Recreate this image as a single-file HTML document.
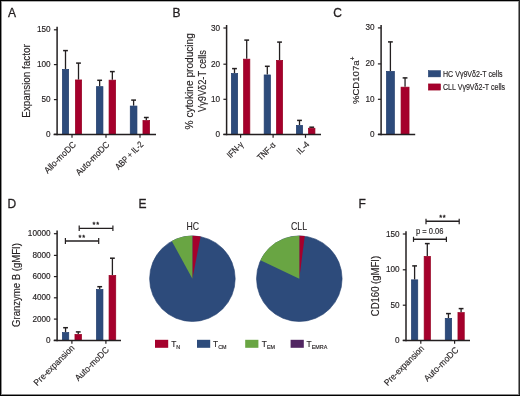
<!DOCTYPE html>
<html><head><meta charset="utf-8"><style>
html,body{margin:0;padding:0;background:#fff;}
body{width:520px;height:396px;overflow:hidden;position:relative;}
svg{position:absolute;left:0;top:0;will-change:transform;}
text{font-family:"Liberation Sans", sans-serif;fill:#231f20;stroke:#231f20;stroke-width:0.15px;}
.big{stroke-width:0.3px;}
.ast{stroke-width:0.35px;}
.fr{position:absolute;background:#000;}
.thin{stroke-width:0.08px;}
</style></head><body>
<svg width="520" height="396" viewBox="0 0 520 396">
<text x="7.9" y="16.7" font-size="12" text-anchor="start" class="big">A</text>
<text x="172.4" y="17.3" font-size="12" text-anchor="start" class="big">B</text>
<text x="333.3" y="17.4" font-size="12" text-anchor="start" class="big">C</text>
<text x="7.6" y="207.8" font-size="12" text-anchor="start" class="big">D</text>
<text x="138.4" y="208" font-size="12" text-anchor="start" class="big">E</text>
<text x="358.4" y="207.7" font-size="12" text-anchor="start" class="big">F</text>
<line x1="65.5" y1="69.0" x2="65.5" y2="50.5" stroke="#231f20" stroke-width="1.3"/>
<line x1="63.1" y1="50.6" x2="67.9" y2="50.6" stroke="#231f20" stroke-width="1.5"/>
<rect x="62.35" y="69.35" width="6.30" height="65.15" fill="#2d4b7b" stroke="#223d6c" stroke-width="0.7"/>
<line x1="78.5" y1="79.6" x2="78.5" y2="63.0" stroke="#231f20" stroke-width="1.3"/>
<line x1="76.1" y1="63.1" x2="80.9" y2="63.1" stroke="#231f20" stroke-width="1.5"/>
<rect x="75.35" y="79.95" width="6.30" height="54.55" fill="#a5002c" stroke="#960022" stroke-width="0.7"/>
<line x1="99.65" y1="86.3" x2="99.65" y2="80.2" stroke="#231f20" stroke-width="1.3"/>
<line x1="97.25" y1="80.3" x2="102.05000000000001" y2="80.3" stroke="#231f20" stroke-width="1.5"/>
<rect x="96.35" y="86.65" width="6.60" height="47.85" fill="#2d4b7b" stroke="#223d6c" stroke-width="0.7"/>
<line x1="112.35" y1="79.8" x2="112.35" y2="71.5" stroke="#231f20" stroke-width="1.3"/>
<line x1="109.94999999999999" y1="71.6" x2="114.75" y2="71.6" stroke="#231f20" stroke-width="1.5"/>
<rect x="109.05" y="80.15" width="6.60" height="54.35" fill="#a5002c" stroke="#960022" stroke-width="0.7"/>
<line x1="133.60000000000002" y1="105.7" x2="133.60000000000002" y2="100" stroke="#231f20" stroke-width="1.3"/>
<line x1="131.20000000000002" y1="100.1" x2="136.00000000000003" y2="100.1" stroke="#231f20" stroke-width="1.5"/>
<rect x="130.25" y="106.05" width="6.70" height="28.45" fill="#2d4b7b" stroke="#223d6c" stroke-width="0.7"/>
<line x1="146.3" y1="120.2" x2="146.3" y2="117.4" stroke="#231f20" stroke-width="1.3"/>
<line x1="143.9" y1="117.5" x2="148.70000000000002" y2="117.5" stroke="#231f20" stroke-width="1.5"/>
<rect x="142.95" y="120.55" width="6.70" height="13.95" fill="#a5002c" stroke="#960022" stroke-width="0.7"/>
<line x1="57.1" y1="26.8" x2="57.1" y2="135.25" stroke="#231f20" stroke-width="1.5"/>
<line x1="53.9" y1="134.3" x2="57.1" y2="134.3" stroke="#231f20" stroke-width="1.2"/>
<text x="50.65" y="136.8" font-size="8.2" text-anchor="end">0</text>
<line x1="53.9" y1="99.6" x2="57.1" y2="99.6" stroke="#231f20" stroke-width="1.2"/>
<text x="50.65" y="102.1" font-size="8.2" text-anchor="end">50</text>
<line x1="53.9" y1="64.6" x2="57.1" y2="64.6" stroke="#231f20" stroke-width="1.2"/>
<text x="50.65" y="67.1" font-size="8.2" text-anchor="end">100</text>
<line x1="53.9" y1="29.8" x2="57.1" y2="29.8" stroke="#231f20" stroke-width="1.2"/>
<text x="50.65" y="32.3" font-size="8.2" text-anchor="end">150</text>
<line x1="53.6" y1="134.5" x2="156" y2="134.5" stroke="#231f20" stroke-width="1.5"/>
<line x1="72" y1="134.5" x2="72" y2="137.8" stroke="#231f20" stroke-width="1.2"/>
<line x1="106" y1="134.5" x2="106" y2="137.8" stroke="#231f20" stroke-width="1.2"/>
<line x1="140" y1="134.5" x2="140" y2="137.8" stroke="#231f20" stroke-width="1.2"/>
<text x="29.7" y="81.0" font-size="10" text-anchor="middle" transform="rotate(-90 29.7 81.0)" textLength="73.7" lengthAdjust="spacingAndGlyphs">Expansion factor</text>
<line x1="234.5" y1="73.1" x2="234.5" y2="68.5" stroke="#231f20" stroke-width="1.3"/>
<line x1="232.1" y1="68.6" x2="236.9" y2="68.6" stroke="#231f20" stroke-width="1.5"/>
<rect x="231.35" y="73.45" width="6.30" height="61.05" fill="#2d4b7b" stroke="#223d6c" stroke-width="0.7"/>
<line x1="246.7" y1="58.8" x2="246.7" y2="40" stroke="#231f20" stroke-width="1.3"/>
<line x1="244.29999999999998" y1="40.1" x2="249.1" y2="40.1" stroke="#231f20" stroke-width="1.5"/>
<rect x="243.55" y="59.15" width="6.30" height="75.35" fill="#a5002c" stroke="#960022" stroke-width="0.7"/>
<line x1="267.3" y1="74.6" x2="267.3" y2="66.2" stroke="#231f20" stroke-width="1.3"/>
<line x1="264.90000000000003" y1="66.3" x2="269.7" y2="66.3" stroke="#231f20" stroke-width="1.5"/>
<rect x="264.15" y="74.95" width="6.30" height="59.55" fill="#2d4b7b" stroke="#223d6c" stroke-width="0.7"/>
<line x1="279.55" y1="60" x2="279.55" y2="42" stroke="#231f20" stroke-width="1.3"/>
<line x1="277.15000000000003" y1="42.1" x2="281.95" y2="42.1" stroke="#231f20" stroke-width="1.5"/>
<rect x="276.45" y="60.35" width="6.20" height="74.15" fill="#a5002c" stroke="#960022" stroke-width="0.7"/>
<line x1="299.5" y1="125" x2="299.5" y2="120.3" stroke="#231f20" stroke-width="1.3"/>
<line x1="297.1" y1="120.39999999999999" x2="301.9" y2="120.39999999999999" stroke="#231f20" stroke-width="1.5"/>
<rect x="296.35" y="125.35" width="6.30" height="9.15" fill="#2d4b7b" stroke="#223d6c" stroke-width="0.7"/>
<line x1="311.70000000000005" y1="127.9" x2="311.70000000000005" y2="127.1" stroke="#231f20" stroke-width="1.3"/>
<line x1="309.30000000000007" y1="127.19999999999999" x2="314.1" y2="127.19999999999999" stroke="#231f20" stroke-width="1.5"/>
<rect x="308.45" y="128.25" width="6.50" height="6.25" fill="#a5002c" stroke="#960022" stroke-width="0.7"/>
<line x1="226.6" y1="25" x2="226.6" y2="135.25" stroke="#231f20" stroke-width="1.5"/>
<line x1="223.4" y1="134.4" x2="226.6" y2="134.4" stroke="#231f20" stroke-width="1.2"/>
<text x="220.15" y="136.9" font-size="8.2" text-anchor="end">0</text>
<line x1="223.4" y1="99.3" x2="226.6" y2="99.3" stroke="#231f20" stroke-width="1.2"/>
<text x="220.15" y="101.8" font-size="8.2" text-anchor="end">10</text>
<line x1="223.4" y1="64.2" x2="226.6" y2="64.2" stroke="#231f20" stroke-width="1.2"/>
<text x="220.15" y="66.7" font-size="8.2" text-anchor="end">20</text>
<line x1="223.4" y1="28.0" x2="226.6" y2="28.0" stroke="#231f20" stroke-width="1.2"/>
<text x="220.15" y="30.5" font-size="8.2" text-anchor="end">30</text>
<line x1="223.4" y1="134.5" x2="321" y2="134.5" stroke="#231f20" stroke-width="1.5"/>
<line x1="240.6" y1="134.5" x2="240.6" y2="137.8" stroke="#231f20" stroke-width="1.2"/>
<line x1="273.1" y1="134.5" x2="273.1" y2="137.8" stroke="#231f20" stroke-width="1.2"/>
<line x1="305.5" y1="134.5" x2="305.5" y2="137.8" stroke="#231f20" stroke-width="1.2"/>
<text x="193.2" y="81.25" font-size="10" text-anchor="middle" transform="rotate(-90 193.2 81.25)" textLength="96.26" lengthAdjust="spacingAndGlyphs">% cytokine producing</text>
<text x="205.8" y="81.0" font-size="10" text-anchor="middle" transform="rotate(-90 205.8 81.0)" textLength="61.88" lengthAdjust="spacingAndGlyphs">V&#947;9V&#948;2-T cells</text>
<line x1="390.4" y1="71" x2="390.4" y2="41.8" stroke="#231f20" stroke-width="1.3"/>
<line x1="388.0" y1="41.9" x2="392.79999999999995" y2="41.9" stroke="#231f20" stroke-width="1.5"/>
<rect x="386.45" y="71.35" width="7.90" height="63.05" fill="#2d4b7b" stroke="#223d6c" stroke-width="0.7"/>
<line x1="405.04999999999995" y1="86.8" x2="405.04999999999995" y2="77.8" stroke="#231f20" stroke-width="1.3"/>
<line x1="402.65" y1="77.89999999999999" x2="407.44999999999993" y2="77.89999999999999" stroke="#231f20" stroke-width="1.5"/>
<rect x="401.05" y="87.15" width="8.00" height="47.25" fill="#a5002c" stroke="#960022" stroke-width="0.7"/>
<line x1="381.1" y1="25" x2="381.1" y2="135.15" stroke="#231f20" stroke-width="1.5"/>
<line x1="377.90000000000003" y1="134.3" x2="381.1" y2="134.3" stroke="#231f20" stroke-width="1.2"/>
<text x="374.65" y="136.8" font-size="8.2" text-anchor="end">0</text>
<line x1="377.90000000000003" y1="99.3" x2="381.1" y2="99.3" stroke="#231f20" stroke-width="1.2"/>
<text x="374.65" y="101.8" font-size="8.2" text-anchor="end">10</text>
<line x1="377.90000000000003" y1="63.9" x2="381.1" y2="63.9" stroke="#231f20" stroke-width="1.2"/>
<text x="374.65" y="66.4" font-size="8.2" text-anchor="end">20</text>
<line x1="377.90000000000003" y1="27.9" x2="381.1" y2="27.9" stroke="#231f20" stroke-width="1.2"/>
<text x="374.65" y="30.4" font-size="8.2" text-anchor="end">30</text>
<line x1="377.9" y1="134.4" x2="415.2" y2="134.4" stroke="#231f20" stroke-width="1.5"/>
<text x="358.6" y="80.3" font-size="9.6" text-anchor="middle" transform="rotate(-90 358.6 80.3)">%CD107a<tspan font-size="6.6" dy="-3.6">+</tspan></text>
<rect x="428.30" y="70.60" width="12.30" height="6.30" fill="#2d4b7b" stroke="#223d6c" stroke-width="0.5"/>
<rect x="428.30" y="83.90" width="12.30" height="6.20" fill="#a5002c" stroke="#960022" stroke-width="0.5"/>
<text x="443.0" y="76.9" font-size="8.3" text-anchor="start" textLength="59.54" lengthAdjust="spacingAndGlyphs">HC V&#947;9V&#948;2-T cells</text>
<text x="443.0" y="90.1" font-size="8.3" text-anchor="start" textLength="62.08" lengthAdjust="spacingAndGlyphs">CLL V&#947;9V&#948;2-T cells</text>
<line x1="65.55" y1="332.2" x2="65.55" y2="327.6" stroke="#231f20" stroke-width="1.3"/>
<line x1="63.15" y1="327.70000000000005" x2="67.95" y2="327.70000000000005" stroke="#231f20" stroke-width="1.5"/>
<rect x="62.35" y="332.55" width="6.40" height="7.85" fill="#2d4b7b" stroke="#223d6c" stroke-width="0.7"/>
<line x1="78.25" y1="334" x2="78.25" y2="331.8" stroke="#231f20" stroke-width="1.3"/>
<line x1="75.85" y1="331.90000000000003" x2="80.65" y2="331.90000000000003" stroke="#231f20" stroke-width="1.5"/>
<rect x="74.95" y="334.35" width="6.60" height="6.05" fill="#a5002c" stroke="#960022" stroke-width="0.7"/>
<line x1="99.69999999999999" y1="289.1" x2="99.69999999999999" y2="286.6" stroke="#231f20" stroke-width="1.3"/>
<line x1="97.29999999999998" y1="286.70000000000005" x2="102.1" y2="286.70000000000005" stroke="#231f20" stroke-width="1.5"/>
<rect x="96.45" y="289.45" width="6.50" height="50.95" fill="#2d4b7b" stroke="#223d6c" stroke-width="0.7"/>
<line x1="112.4" y1="275.1" x2="112.4" y2="258.1" stroke="#231f20" stroke-width="1.3"/>
<line x1="110.0" y1="258.20000000000005" x2="114.80000000000001" y2="258.20000000000005" stroke="#231f20" stroke-width="1.5"/>
<rect x="109.05" y="275.45" width="6.70" height="64.95" fill="#a5002c" stroke="#960022" stroke-width="0.7"/>
<line x1="57.1" y1="230.5" x2="57.1" y2="341.15" stroke="#231f20" stroke-width="1.5"/>
<line x1="53.9" y1="340.3" x2="57.1" y2="340.3" stroke="#231f20" stroke-width="1.2"/>
<text x="50.65" y="342.8" font-size="8.2" text-anchor="end">0</text>
<line x1="53.9" y1="319.1" x2="57.1" y2="319.1" stroke="#231f20" stroke-width="1.2"/>
<text x="50.65" y="321.6" font-size="8.2" text-anchor="end">2000</text>
<line x1="53.9" y1="297.8" x2="57.1" y2="297.8" stroke="#231f20" stroke-width="1.2"/>
<text x="50.65" y="300.3" font-size="8.2" text-anchor="end">4000</text>
<line x1="53.9" y1="276.6" x2="57.1" y2="276.6" stroke="#231f20" stroke-width="1.2"/>
<text x="50.65" y="279.1" font-size="8.2" text-anchor="end">6000</text>
<line x1="53.9" y1="255.4" x2="57.1" y2="255.4" stroke="#231f20" stroke-width="1.2"/>
<text x="50.65" y="257.9" font-size="8.2" text-anchor="end">8000</text>
<line x1="53.9" y1="233.7" x2="57.1" y2="233.7" stroke="#231f20" stroke-width="1.2"/>
<text x="50.65" y="236.2" font-size="8.2" text-anchor="end">10000</text>
<line x1="53.7" y1="340.4" x2="121" y2="340.4" stroke="#231f20" stroke-width="1.5"/>
<line x1="71.9" y1="340.4" x2="71.9" y2="343.7" stroke="#231f20" stroke-width="1.2"/>
<line x1="105.9" y1="340.4" x2="105.9" y2="343.7" stroke="#231f20" stroke-width="1.2"/>
<line x1="65.4" y1="241" x2="98.7" y2="241" stroke="#231f20" stroke-width="1.4"/>
<line x1="65.4" y1="238.1" x2="65.4" y2="243.9" stroke="#231f20" stroke-width="1.2"/>
<line x1="98.7" y1="238.1" x2="98.7" y2="243.9" stroke="#231f20" stroke-width="1.2"/>
<line x1="79.2" y1="228.4" x2="112.9" y2="228.4" stroke="#231f20" stroke-width="1.4"/>
<line x1="79.2" y1="225.5" x2="79.2" y2="230.9" stroke="#231f20" stroke-width="1.2"/>
<line x1="112.9" y1="225.5" x2="112.9" y2="230.9" stroke="#231f20" stroke-width="1.2"/>
<text x="79.9" y="240.20" font-size="7.4" text-anchor="middle" class="ast">*</text>
<text x="83.7" y="240.20" font-size="7.4" text-anchor="middle" class="ast">*</text>
<text x="94" y="227.30" font-size="7.4" text-anchor="middle" class="ast">*</text>
<text x="97.8" y="227.30" font-size="7.4" text-anchor="middle" class="ast">*</text>
<text x="20.1" y="285.0" font-size="10" text-anchor="middle" transform="rotate(-90 20.1 285.0)" textLength="83.8" lengthAdjust="spacingAndGlyphs">Granzyme B (gMFI)</text>
<circle cx="192.4" cy="278.7" r="42.8" fill="#2d4b7b" stroke="#23406f" stroke-width="0.6"/>
<path d="M192.4,278.7 L192.40,235.70 A43.0,43.0 0 0 1 200.60,236.49 Z" fill="#a5002c"/>
<path d="M192.4,278.7 L171.75,240.98 A43.0,43.0 0 0 1 192.40,235.70 Z" fill="#69a543"/>
<circle cx="299.3" cy="278.7" r="42.8" fill="#2d4b7b" stroke="#23406f" stroke-width="0.6"/>
<path d="M299.3,278.7 L299.30,235.70 A43.0,43.0 0 0 1 304.76,236.05 Z" fill="#a5002c"/>
<path d="M299.3,278.7 L260.46,260.26 A43.0,43.0 0 0 1 299.30,235.70 Z" fill="#69a543"/>
<text x="192.7" y="230.2" font-size="10.2" text-anchor="middle" textLength="12.6" lengthAdjust="spacingAndGlyphs" class="thin">HC</text>
<text x="299.05" y="230.4" font-size="10.2" text-anchor="middle" textLength="16.2" lengthAdjust="spacingAndGlyphs" class="thin">CLL</text>
<rect x="155.00" y="339.80" width="13.20" height="8.00" fill="#a5002c"/>
<rect x="197.00" y="339.80" width="13.20" height="8.00" fill="#2d4b7b"/>
<rect x="245.20" y="339.80" width="13.20" height="8.00" fill="#69a543"/>
<rect x="290.60" y="339.80" width="13.20" height="8.00" fill="#512662"/>
<text x="171.2" y="347" font-size="8.4">T<tspan font-size="5.4" dy="1.9">N</tspan></text>
<text x="213.1" y="347" font-size="8.4">T<tspan font-size="5.4" dy="1.9">CM</tspan></text>
<text x="261.8" y="347" font-size="8.4">T<tspan font-size="5.4" dy="1.9">EM</tspan></text>
<text x="306.6" y="347" font-size="8.4">T<tspan font-size="5.4" dy="1.9">EMRA</tspan></text>
<line x1="414.6" y1="279.5" x2="414.6" y2="265.8" stroke="#231f20" stroke-width="1.3"/>
<line x1="412.20000000000005" y1="265.90000000000003" x2="417.0" y2="265.90000000000003" stroke="#231f20" stroke-width="1.5"/>
<rect x="411.45" y="279.85" width="6.30" height="60.55" fill="#2d4b7b" stroke="#223d6c" stroke-width="0.7"/>
<line x1="427.3" y1="256" x2="427.3" y2="243.5" stroke="#231f20" stroke-width="1.3"/>
<line x1="424.90000000000003" y1="243.6" x2="429.7" y2="243.6" stroke="#231f20" stroke-width="1.5"/>
<rect x="424.15" y="256.35" width="6.30" height="84.05" fill="#a5002c" stroke="#960022" stroke-width="0.7"/>
<line x1="448.45" y1="318" x2="448.45" y2="313.5" stroke="#231f20" stroke-width="1.3"/>
<line x1="446.05" y1="313.6" x2="450.84999999999997" y2="313.6" stroke="#231f20" stroke-width="1.5"/>
<rect x="445.25" y="318.35" width="6.40" height="22.05" fill="#2d4b7b" stroke="#223d6c" stroke-width="0.7"/>
<line x1="461.1" y1="312.3" x2="461.1" y2="308.5" stroke="#231f20" stroke-width="1.3"/>
<line x1="458.70000000000005" y1="308.6" x2="463.5" y2="308.6" stroke="#231f20" stroke-width="1.5"/>
<rect x="457.95" y="312.65" width="6.30" height="27.75" fill="#a5002c" stroke="#960022" stroke-width="0.7"/>
<line x1="406.0" y1="231.2" x2="406.0" y2="341.15" stroke="#231f20" stroke-width="1.5"/>
<line x1="402.8" y1="340.4" x2="406.0" y2="340.4" stroke="#231f20" stroke-width="1.2"/>
<text x="399.55" y="342.9" font-size="8.2" text-anchor="end">0</text>
<line x1="402.8" y1="305.2" x2="406.0" y2="305.2" stroke="#231f20" stroke-width="1.2"/>
<text x="399.55" y="307.7" font-size="8.2" text-anchor="end">50</text>
<line x1="402.8" y1="269.8" x2="406.0" y2="269.8" stroke="#231f20" stroke-width="1.2"/>
<text x="399.55" y="272.3" font-size="8.2" text-anchor="end">100</text>
<line x1="402.8" y1="234.0" x2="406.0" y2="234.0" stroke="#231f20" stroke-width="1.2"/>
<text x="399.55" y="236.5" font-size="8.2" text-anchor="end">150</text>
<line x1="402.8" y1="340.4" x2="470" y2="340.4" stroke="#231f20" stroke-width="1.5"/>
<line x1="420.8" y1="340.4" x2="420.8" y2="343.7" stroke="#231f20" stroke-width="1.2"/>
<line x1="454.6" y1="340.4" x2="454.6" y2="343.7" stroke="#231f20" stroke-width="1.2"/>
<line x1="413.5" y1="239.2" x2="446.4" y2="239.2" stroke="#231f20" stroke-width="1.4"/>
<line x1="413.5" y1="236.8" x2="413.5" y2="241.9" stroke="#231f20" stroke-width="1.2"/>
<line x1="446.4" y1="236.8" x2="446.4" y2="241.9" stroke="#231f20" stroke-width="1.2"/>
<line x1="426" y1="221.3" x2="459.2" y2="221.3" stroke="#231f20" stroke-width="1.4"/>
<line x1="426" y1="218.8" x2="426" y2="224.2" stroke="#231f20" stroke-width="1.2"/>
<line x1="459.2" y1="218.8" x2="459.2" y2="224.2" stroke="#231f20" stroke-width="1.2"/>
<text x="416.0" y="234.2" font-size="8.3" text-anchor="start" textLength="27.42" lengthAdjust="spacingAndGlyphs">p = 0.06</text>
<text x="440.7" y="220.40" font-size="7.4" text-anchor="middle" class="ast">*</text>
<text x="444.3" y="220.40" font-size="7.4" text-anchor="middle" class="ast">*</text>
<text x="379.0" y="286.0" font-size="10" text-anchor="middle" transform="rotate(-90 379.0 286.0)" textLength="60.36" lengthAdjust="spacingAndGlyphs">CD160 (gMFI)</text>
<text x="76.5" y="145.2" font-size="9.0" text-anchor="end" transform="rotate(-45 76.5 145.2)" textLength="40.69" lengthAdjust="spacingAndGlyphs">Allo-moDC</text>
<text x="110.05" y="145.25" font-size="9.0" text-anchor="end" transform="rotate(-45 110.05 145.25)" textLength="43.48" lengthAdjust="spacingAndGlyphs">Auto-moDC</text>
<text x="143.9" y="145.15" font-size="9.0" text-anchor="end" transform="rotate(-45 143.9 145.15)" textLength="35.49" lengthAdjust="spacingAndGlyphs">ABP + IL-2</text>
<text x="244.0" y="145.2" font-size="9.0" text-anchor="end" transform="rotate(-45 244.0 145.2)" textLength="19.17" lengthAdjust="spacingAndGlyphs">IFN-&#947;</text>
<text x="276.15" y="145.7" font-size="9.0" text-anchor="end" transform="rotate(-45 276.15 145.7)" textLength="21.81" lengthAdjust="spacingAndGlyphs">TNF-&#945;</text>
<text x="310.05" y="144.95" font-size="9.0" text-anchor="end" transform="rotate(-45 310.05 144.95)" textLength="14.1" lengthAdjust="spacingAndGlyphs">IL-4</text>
<text x="74.9" y="348.6" font-size="9.0" text-anchor="end" transform="rotate(-45 74.9 348.6)" textLength="53.1" lengthAdjust="spacingAndGlyphs">Pre-expansion</text>
<text x="109.5" y="350.55" font-size="9.0" text-anchor="end" transform="rotate(-45 109.5 350.55)" textLength="43.83" lengthAdjust="spacingAndGlyphs">Auto-moDC</text>
<text x="424.7" y="349.1" font-size="9.0" text-anchor="end" transform="rotate(-45 424.7 349.1)" textLength="52.39" lengthAdjust="spacingAndGlyphs">Pre-expansion</text>
<text x="459.0" y="350.55" font-size="9.0" text-anchor="end" transform="rotate(-45 459.0 350.55)" textLength="44.54" lengthAdjust="spacingAndGlyphs">Auto-moDC</text>
</svg>
<div class="fr" style="left:0;top:0;width:520px;height:1px"></div>
<div class="fr" style="left:0;top:1px;width:520px;height:1px;background:#b0b0b0"></div>
<div class="fr" style="left:0;top:0;width:1px;height:396px"></div>
<div class="fr" style="left:1px;top:1px;width:1px;height:394px;background:#909090"></div>
<div class="fr" style="left:519px;top:0;width:1px;height:396px;background:#2a2a2a"></div>
<div class="fr" style="left:518px;top:1px;width:1px;height:394px;background:#8a8a8a"></div>
<div class="fr" style="left:0;top:395px;width:520px;height:1px"></div>
<div class="fr" style="left:1px;top:394px;width:518px;height:1px;background:#8a8a8a"></div>
</body></html>
